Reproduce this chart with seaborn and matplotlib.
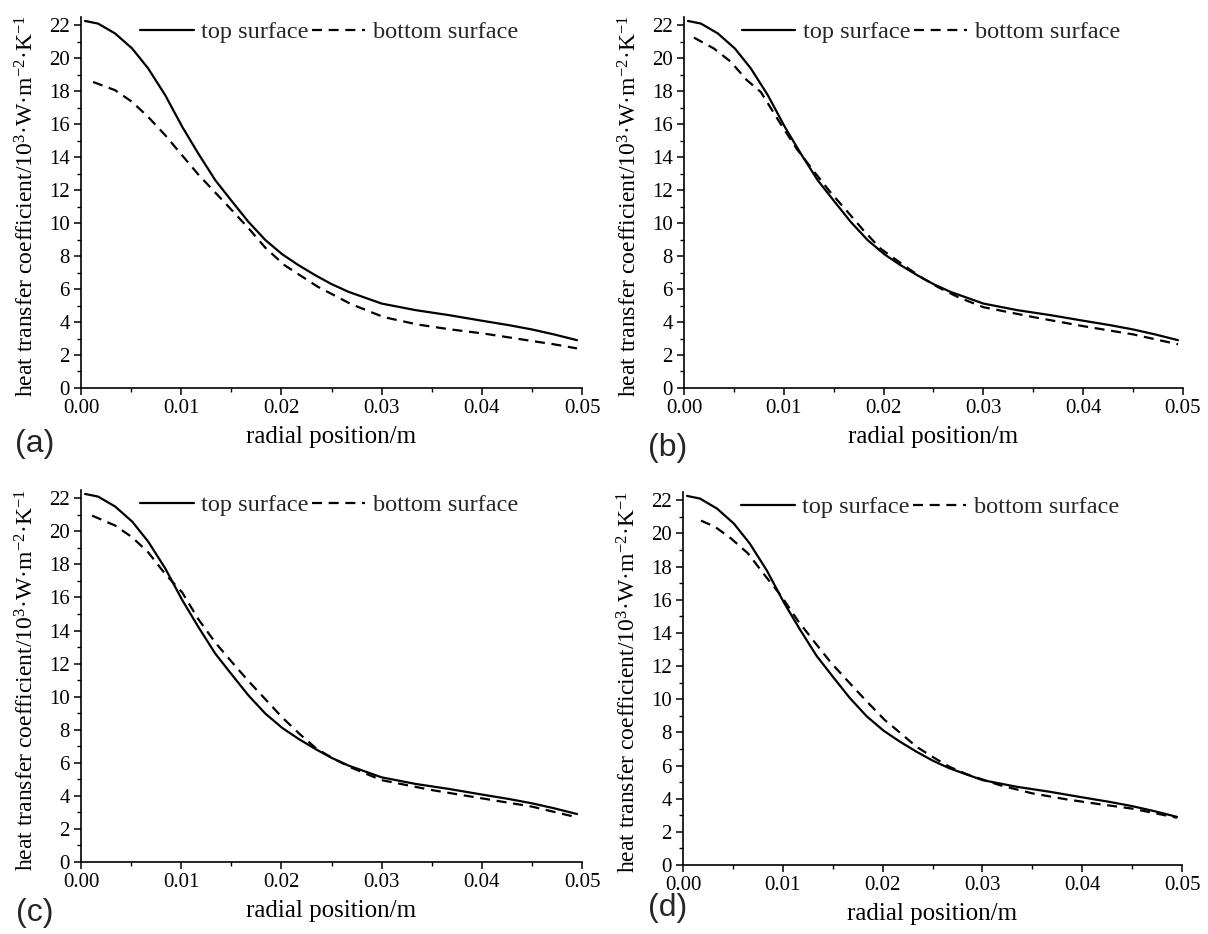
import matplotlib
matplotlib.use("Agg")
import matplotlib.pyplot as plt
from matplotlib.ticker import MultipleLocator
import seaborn as sns
import pandas as pd

# top surface curve (same in all four cases)
x_top = [0.0004, 0.0017, 0.0034, 0.0051, 0.0067, 0.0084, 0.0101, 0.0117, 0.0134,
         0.0151, 0.0167, 0.0184, 0.0201, 0.0217, 0.0234, 0.025, 0.0267, 0.03,
         0.0334, 0.0367, 0.04, 0.0427, 0.045, 0.0472, 0.0495]
top_surface = [22.26, 22.1, 21.5, 20.59, 19.38, 17.76, 15.84, 14.22, 12.6,
               11.29, 10.08, 8.97, 8.1, 7.45, 6.83, 6.3, 5.83, 5.12,
               4.72, 4.42, 4.08, 3.81, 3.55, 3.25, 2.9]

# bottom surface curves, one per panel
x_bot_a = [0.0012, 0.0034, 0.0051, 0.0067, 0.0084, 0.0101, 0.0117, 0.0134, 0.0151,
           0.0167, 0.0184, 0.0203, 0.0236, 0.0269, 0.0302, 0.0336, 0.0369, 0.0402,
           0.0429, 0.045, 0.0472, 0.0495]
bot_a = [18.56, 18.06, 17.35, 16.44, 15.33, 14.1, 12.95, 11.85, 10.75,
         9.7, 8.5, 7.45, 6.15, 5.1, 4.3, 3.85, 3.55, 3.3,
         3.05, 2.85, 2.65, 2.4]

x_bot_b = [0.001, 0.003, 0.0047, 0.0063, 0.0077, 0.0097, 0.0113, 0.013, 0.0147,
           0.0163, 0.018, 0.0197, 0.022, 0.0238, 0.0255, 0.0275, 0.03, 0.035,
           0.04, 0.045, 0.0495]
bot_b = [21.25, 20.59, 19.78, 18.67, 17.95, 16.0, 14.5, 13.15, 11.85,
         10.75, 9.55, 8.45, 7.45, 6.7, 6.1, 5.5, 4.9, 4.3,
         3.75, 3.25, 2.65]

x_bot_c = [0.0011, 0.0034, 0.0051, 0.0067, 0.0084, 0.0101, 0.0117, 0.0134, 0.0151,
           0.0167, 0.0184, 0.0201, 0.0218, 0.0235, 0.0252, 0.027, 0.03, 0.035,
           0.04, 0.045, 0.0495]
bot_c = [20.95, 20.35, 19.64, 18.73, 17.42, 16.3, 14.69, 13.27, 12.06,
         10.95, 9.84, 8.73, 7.75, 6.85, 6.25, 5.7, 4.95, 4.35,
         3.85, 3.35, 2.7]

x_bot_d = [0.0018, 0.0032, 0.0048, 0.0065, 0.0082, 0.0098, 0.0115, 0.0132, 0.0148,
           0.0165, 0.0182, 0.0202, 0.0217, 0.0234, 0.025, 0.0267, 0.0284, 0.0317,
           0.035, 0.0384, 0.0417, 0.045, 0.0495]
bot_d = [20.77, 20.4, 19.7, 18.8, 17.47, 16.26, 14.74, 13.43, 12.22,
         11.1, 10.0, 8.75, 8.0, 7.13, 6.52, 5.92, 5.48, 4.82,
         4.32, 3.96, 3.67, 3.4, 2.85]

panel_tags = ["(a)", "(b)", "(c)", "(d)"]
bottoms = [(x_bot_a, bot_a), (x_bot_b, bot_b), (x_bot_c, bot_c), (x_bot_d, bot_d)]

ylabel = "heat transfer coefficient/10$^{3}$·W·m$^{-2}$·K$^{-1}$"
xlabel = "radial position/m"

sns.set_theme(style="ticks")
plt.rcParams["font.family"] = ["Liberation Serif", "DejaVu Serif"]
plt.rcParams["mathtext.fontset"] = "custom"
plt.rcParams["mathtext.rm"] = "Liberation Serif"
plt.rcParams["mathtext.it"] = "Liberation Serif:italic"

fig = plt.figure(figsize=(12.08, 9.34), dpi=100)

# axes boxes [left, bottom, width, height] in figure fractions
boxes = [[0.0671, 0.5846, 0.4147, 0.3972],
         [0.5662, 0.5846, 0.4131, 0.3972],
         [0.0671, 0.0771, 0.4147, 0.3983],
         [0.5654, 0.0739, 0.4131, 0.3994]]
tag_pos = [(0.029, 0.525), (0.553, 0.520), (0.029, 0.023), (0.553, 0.028)]

for i in range(4):
    ax = fig.add_axes(boxes[i])
    xb, yb = bottoms[i]
    sns.lineplot(x=x_top, y=top_surface, ax=ax, color="black", lw=1.6,
                 estimator=None, sort=False, label="top surface")
    sns.lineplot(x=xb, y=yb, ax=ax, color="black", lw=1.6,
                 linestyle=(0, (4.5, 3.0)), estimator=None, sort=False,
                 label="bottom surface")

    ax.set_xlim(0, 0.05)
    ax.set_ylim(0, 22.5)
    ax.xaxis.set_major_locator(MultipleLocator(0.01))
    ax.xaxis.set_minor_locator(MultipleLocator(0.005))
    ax.yaxis.set_major_locator(MultipleLocator(2))
    ax.yaxis.set_minor_locator(MultipleLocator(1))
    ax.xaxis.set_major_formatter(plt.FormatStrFormatter("%.2f"))
    ax.tick_params(which="major", direction="out", length=5, width=1.1,
                   labelsize=15, color="black", labelcolor="black", pad=3)
    ax.tick_params(which="minor", direction="out", length=3, width=1.0,
                   color="black")
    for s in ["top", "right"]:
        ax.spines[s].set_visible(False)
    for s in ["left", "bottom"]:
        ax.spines[s].set_linewidth(1.2)
        ax.spines[s].set_color("black")

    ax.set_xlabel(xlabel, fontsize=18, color="black", labelpad=6)
    ax.set_ylabel(ylabel, fontsize=17, color="black")
    ax.yaxis.set_label_coords(-0.085, 0.49)

    ax.legend(loc="upper center", bbox_to_anchor=(0.495, 1.015), ncol=2,
              frameon=False, fontsize=17.5, handlelength=2.2,
              handletextpad=0.3, columnspacing=0.15, borderaxespad=0)

    fig.text(tag_pos[i][0], tag_pos[i][1], panel_tags[i], fontsize=23,
             family="Liberation Sans", ha="center", va="center")

fig.savefig("out.png", dpi=100)
